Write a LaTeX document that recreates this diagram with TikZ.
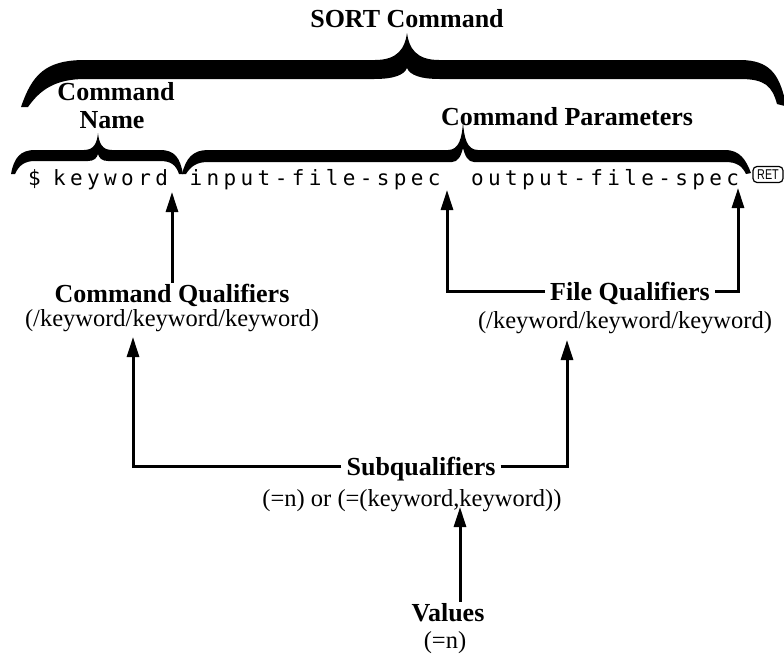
\documentclass[tikz,border=0pt]{standalone}
\usepackage{fontspec}
\setmainfont{Liberation Serif}
\newfontfamily\monoF[LetterSpace=20.8]{DejaVu Sans Mono}
\newfontfamily\retF{Liberation Sans}
\usetikzlibrary{arrows.meta}
\begin{document}
\begin{tikzpicture}[x=1pt,y=-1pt,
  lbl/.style={font=\fontsize{26}{30}\selectfont\bfseries, text height=17pt, text depth=0pt, inner xsep=5pt, inner ysep=2pt},
  vals/.style={font=\fontsize{24.5}{29}\selectfont, anchor=base, inner sep=0pt},
  cmdtxt/.style={font=\fontsize{21}{25}\monoF, anchor=base west, inner sep=0pt},
  conn/.style={line width=3pt, -{Triangle[length=20pt,width=12pt]}},
  bracefill/.style={fill=black}]
\useasboundingbox (0,0) rectangle (784,654);

% braces
\fill[bracefill] (21,107) .. controls (32,75) and (45,60) .. (85,60) -- (375,60)
  .. controls (398,60) and (405,48) .. (407,33) .. controls (409,48) and (416,60) .. (439,60)
  -- (740,60) .. controls (770,60) and (779,75) .. (785,100) -- (785,106) -- (777,104)
  .. controls (772,86) and (765,79) .. (740,79) -- (440,79)
  .. controls (420,79) and (410,75) .. (407,68) .. controls (404,75) and (394,79) .. (374,79)
  -- (85,79) .. controls (55,79) and (40,90) .. (28,107) -- cycle;

\fill[bracefill] (11,174) .. controls (14,158) and (20,150) .. (35,150) -- (84,150)
  .. controls (94,150) and (97,143) .. (98,133) .. controls (99,143) and (102,150) .. (112,150)
  -- (160,150) .. controls (175,150) and (180,158) .. (183,174) -- (179,174)
  .. controls (176,165) and (171,161) .. (160,161) -- (108,161)
  .. controls (102,161) and (99,158) .. (98,154) .. controls (97,158) and (94,161) .. (88,161)
  -- (35,161) .. controls (25,161) and (19,165) .. (15,174) -- cycle;

\fill[bracefill] (182,174) .. controls (186,158) and (193,150) .. (208,150) -- (448,150)
  .. controls (459,150) and (462,138) .. (463,122) .. controls (464,138) and (467,150) .. (478,150)
  -- (725,150) .. controls (740,150) and (746,160) .. (751,173) -- (746,174)
  .. controls (742,166) and (737,162) .. (725,162) -- (474,162)
  .. controls (468,162) and (465,156) .. (463,148) .. controls (461,156) and (458,162) .. (452,162)
  -- (208,162) .. controls (197,162) and (191,166) .. (186,174) -- cycle;

% labels
\node[lbl] (sort) at (407,18.5) {SORT Command};
\node[lbl] (cname1) at (116,91.5) {Command};
\node[lbl] (cname2) at (112,119.5) {Name};
\node[lbl] (params) at (567,116.5) {Command Parameters};

% command line
\node[cmdtxt] (dollar) at (28,185) {\$};
\node[cmdtxt] (kwd) at (53,185) {keyword};
\node[cmdtxt] (inp) at (189.5,185) {input-file-spec};
\node[cmdtxt] (outp) at (471,185) {output-file-spec};
\node[draw, rounded corners=4pt, line width=1.2pt, minimum width=30pt, minimum height=16pt,
      inner sep=0pt, font=\fontsize{13.5}{13.5}\retF] (ret) at (768,174.5) {\scalebox{0.8}[1.05]{RET}};

% qualifiers
\node[lbl] (cq) at (172,293.5) {Command Qualifiers};
\node[vals] (cqv) at (172,326) {(/keyword/keyword/keyword)};
\node[lbl] (fq) at (630,291.5) {File Qualifiers};
\node[vals] (fqv) at (625,328) {(/keyword/keyword/keyword)};
\node[lbl] (sq) at (421,466.5) {Subqualifiers};
\node[vals] (sqv) at (412,506) {(=n) or (=(keyword,keyword))};
\node[lbl] (val) at (448,612.5) {Values};
\node[vals] (valv) at (445,648) {(=n)};

% arrow tips
\coordinate (t1) at (172,192);
\coordinate (t2) at (447,190);
\coordinate (t3) at (738,188);
\coordinate (t4) at (133,337);
\coordinate (t5) at (567,340);
\coordinate (t6) at (460,507);

\draw[conn] (cq.north) -- (t1);
\draw[conn] (fq.west) -| (t2);
\draw[conn] (fq.east) -| (t3);
\draw[conn] (sq.west) -| (t4);
\draw[conn] (sq.east) -| (t5);
\draw[conn] (t6 |- val.north) -- (t6);
\end{tikzpicture}
\end{document}
